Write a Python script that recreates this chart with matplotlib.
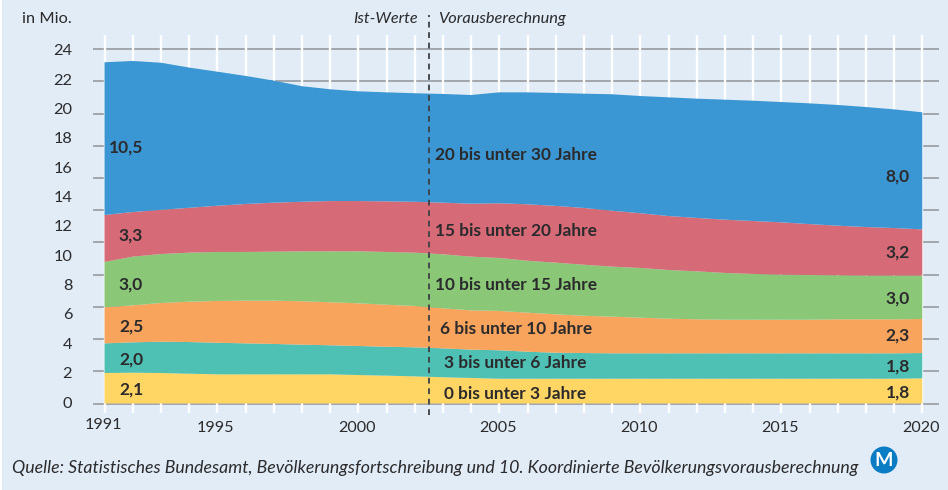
import matplotlib
matplotlib.use('Agg')
import matplotlib.pyplot as plt
import numpy as np
from matplotlib.patches import Ellipse, Rectangle

plt.rcParams['font.family'] = ['Lato', 'DejaVu Sans']

years = np.arange(1991, 2021)

# Stacked bands in millions, bottom to top
age_0_3 = [2.08, 2.10, 2.08, 2.03, 1.99, 1.99, 1.99, 1.99, 1.99, 1.94,
           1.90, 1.85, 1.79, 1.74, 1.69, 1.69, 1.69, 1.69, 1.69, 1.69,
           1.69, 1.69, 1.69, 1.69, 1.69, 1.69, 1.69, 1.69, 1.69, 1.72]
age_3_6 = [2.02, 2.07, 2.13, 2.16, 2.15, 2.11, 2.07, 2.02, 1.98, 1.98,
           1.97, 1.98, 1.97, 1.93, 1.94, 1.84, 1.77, 1.75, 1.73, 1.73,
           1.73, 1.73, 1.73, 1.73, 1.73, 1.73, 1.73, 1.73, 1.73, 1.72]
age_6_10 = [2.46, 2.52, 2.64, 2.75, 2.85, 2.91, 2.95, 2.96, 2.93, 2.91,
            2.86, 2.82, 2.73, 2.68, 2.68, 2.66, 2.62, 2.54, 2.50, 2.43,
            2.36, 2.32, 2.29, 2.29, 2.29, 2.29, 2.32, 2.32, 2.32, 2.32]
age_10_15 = [3.09, 3.32, 3.34, 3.34, 3.34, 3.32, 3.34, 3.40, 3.47, 3.54,
             3.60, 3.63, 3.68, 3.66, 3.61, 3.54, 3.52, 3.48, 3.41, 3.39,
             3.32, 3.27, 3.19, 3.12, 3.07, 3.05, 3.00, 2.98, 2.98, 2.96]
age_15_20 = [3.20, 3.04, 3.01, 3.06, 3.15, 3.27, 3.34, 3.38, 3.43, 3.43,
             3.45, 3.47, 3.52, 3.61, 3.73, 3.85, 3.87, 3.87, 3.81, 3.73,
             3.68, 3.64, 3.63, 3.61, 3.57, 3.47, 3.38, 3.31, 3.24, 3.15]
age_20_30 = [10.41, 10.30, 10.03, 9.56, 9.14, 8.73, 8.32, 7.88, 7.62, 7.48,
             7.43, 7.40, 7.41, 7.41, 7.56, 7.63, 7.70, 7.79, 7.94, 7.99,
             8.09, 8.13, 8.18, 8.20, 8.20, 8.23, 8.23, 8.18, 8.09, 7.98]

band_colors = ['#ffd563', '#4fc0b4', '#f8a45c', '#8ac878', '#d66a76', '#3b97d3']
band_names = ['0 bis unter 3 Jahre', '3 bis unter 6 Jahre', '6 bis unter 10 Jahre',
              '10 bis unter 15 Jahre', '15 bis unter 20 Jahre', '20 bis unter 30 Jahre']
start_labels = ['2,1', '2,0', '2,5', '3,0', '3,3', '10,5']
end_labels = ['1,8', '1,8', '2,3', '3,0', '3,2', '8,0']
y_labels = list(range(0, 26, 2))
x_labels = [1991, 1995, 2000, 2005, 2010, 2015, 2020]
forecast_start = 2002.5

BG = '#e1ecf6'
DARK = '#2b2a2c'
GREY = '#8f9499'
W, H = 948, 490

fig = plt.figure(figsize=(W / 100, H / 100), dpi=100, facecolor=BG)
fig.add_artist(Rectangle((0, 0), 2 / W, 1, transform=fig.transFigure, color='white', lw=0))

ax = fig.add_axes([93 / W, (H - 413) / H, 846 / W, 378 / H])
ax.set_facecolor('none')
for s in ax.spines.values():
    s.set_visible(False)

# 28.2 px per year, 14.67 px per million
ax.set_xlim(1991 - 11.5 / 28.2, 2020 + 16.7 / 28.2)
ax.set_ylim(-9.5 / 14.67, 368.5 / 14.67)

# The printed rules do not line up with the printed numbers, they run every 2.195
rule_step = 2.195
ax.hlines(np.arange(12) * rule_step, *ax.get_xlim(), color=GREY, lw=1.1, zorder=1)
ax.vlines(years, *ax.get_ylim(), color='white', lw=1.7, zorder=2)
ax.stackplot(years, age_0_3, age_3_6, age_6_10, age_10_15, age_15_20, age_20_30,
             colors=band_colors, lw=0, zorder=3)
ax.plot([forecast_start] * 2, [-0.8, 26.45], color='#3d4044', lw=1.3,
        dashes=(3.2, 2.6), zorder=4, clip_on=False)

ax.set_xticks([])
ax.set_yticks(y_labels)
ax.set_yticklabels(y_labels, fontsize=11.8, color=DARK, va='center')
ax.tick_params(axis='y', length=0, pad=15)

for year in x_labels:
    ax.text(year - 0.05, -1.65 if year > 1991 else -1.45, str(year), ha='center', va='center',
            fontsize=11.6, color=DARK)

start_x = [1991.94, 1991.94, 1991.94, 1991.94, 1991.94, 1991.76]
start_y = [0.92, 3.03, 5.28, 8.08, 11.48, 17.48]
end_y = [0.72, 2.50, 4.61, 7.13, 10.26, 15.44]
name_x = [2003.04, 2003.04, 2002.9, 2002.72, 2002.72, 2002.72]
name_y = [0.65, 2.76, 5.08, 8.08, 11.76, 16.94]
for i in range(6):
    ax.text(start_x[i], start_y[i], start_labels[i], ha='center', va='center',
            fontsize=12.5, fontweight='bold', color=DARK, zorder=5)
    ax.text(2019.13, end_y[i], end_labels[i], ha='center', va='center',
            fontsize=12.5, fontweight='bold', color=DARK, zorder=5)
    ax.text(name_x[i], name_y[i], band_names[i], ha='left', va='center',
            fontsize=12.4, fontweight='bold', color=DARK, zorder=5)

fig.text(72 / W, (H - 19) / H, 'in Mio.', ha='right', va='center', fontsize=11.8, color=DARK)
fig.text(418 / W, (H - 19) / H, 'Ist-Werte', ha='right', va='center', fontsize=11.7,
         style='italic', color=DARK)
fig.text(438 / W, (H - 19) / H, 'Vorausberechnung', ha='left', va='center', fontsize=11.8,
         style='italic', color=DARK)
fig.text(12 / W, (H - 468) / H,
         'Quelle: Statistisches Bundesamt, Bevölkerungsfortschreibung und 10. '
         'Koordinierte Bevölkerungsvorausberechnung',
         ha='left', va='center', fontsize=12.8, style='italic', color=DARK)

# M logo
fig.add_artist(Ellipse((884 / W, (H - 460) / H), 27 / W, 27 / H, transform=fig.transFigure,
                       color='#0a7cc4', lw=0))
fig.text(884 / W, (H - 460) / H, 'M', ha='center', va='center', fontsize=14,
         fontweight='bold', color='white')

fig.savefig('out.png', dpi=100, facecolor=BG)
